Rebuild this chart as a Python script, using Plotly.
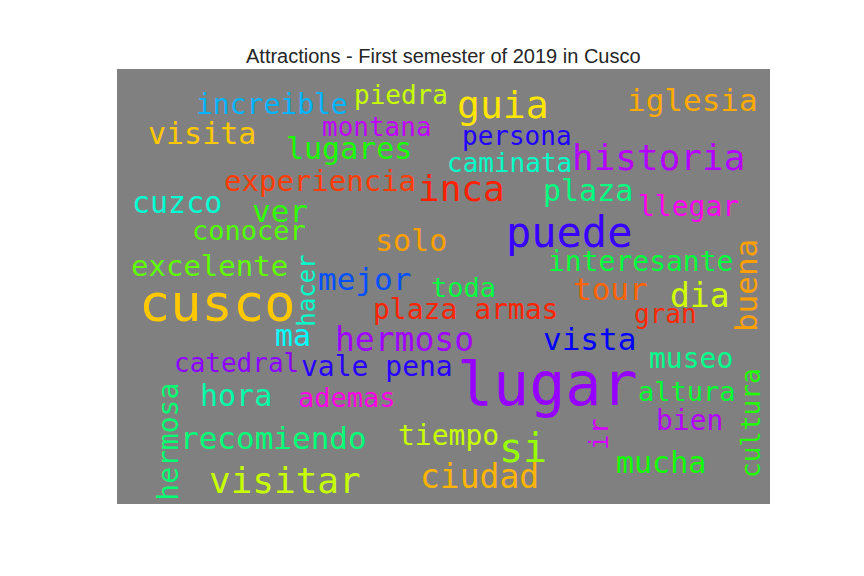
import plotly.graph_objects as go

# ── Word cloud data (canvas is 653 x 435 px, origin top-left) ──────────────
words = [
    "increible", "piedra", "guia", "iglesia", "visita", "montana", "persona",
    "lugares", "caminata", "historia", "experiencia", "inca", "cuzco", "plaza",
    "ver", "llegar", "conocer", "solo", "puede", "excelente", "interesante",
    "mejor", "toda", "tour", "dia", "cusco", "plaza armas", "gran", "ma",
    "hermoso", "vista", "catedral", "vale pena", "museo", "lugar", "hora",
    "ademas", "altura", "bien", "recomiendo", "tiempo", "si", "mucha",
    "visitar", "ciudad", "hacer", "buena", "ir", "cultura", "hermosa",
]
word_x = [
    154.7, 284.0, 386.3, 575.2, 84.8, 259.8, 400.0,
    231.8, 392.5, 541.3, 202.7, 344.7, 59.8, 470.8,
    163.0, 571.5, 131.8, 294.3, 452.2, 92.7, 523.3,
    247.7, 346.3, 493.0, 583.0, 100.2, 348.0, 548.0, 175.5,
    287.2, 472.2, 119.3, 259.7, 573.5, 430.5, 118.5,
    229.8, 569.7, 572.2, 156.8, 331.2, 406.3, 544.2,
    168.0, 362.8, 189.7, 628.8, 482.0, 634.7, 52.0,
]
word_y = [
    35.3, 26.0, 36.2, 31.0, 64.6, 57.7, 67.0,
    79.6, 93.7, 88.2, 111.7, 119.2, 133.6, 121.3,
    142.0, 137.0, 161.4, 171.3, 163.8, 196.7, 192.0,
    210.3, 218.4, 220.3, 226.3, 234.0, 240.6, 245.3, 266.3,
    270.3, 270.3, 293.7, 297.3, 289.6, 315.2, 326.3,
    328.4, 322.7, 351.3, 368.6, 366.3, 378.9, 393.9,
    411.8, 407.9, 222.0, 216.3, 366.0, 354.3, 372.7,
]
word_size = [
    28, 26, 38, 31, 30, 26, 26,
    30, 26, 36, 29, 36, 30, 30,
    31, 28, 27, 30, 42, 29, 28,
    31, 27, 31, 33, 52, 28, 26, 30,
    33, 31, 26, 28, 28, 60, 30,
    27, 27, 28, 31, 28, 40, 30,
    36, 33, 24, 31, 26, 26, 28,
]
word_color = [
    "#00b4ff", "#c8ff00", "#ffe600", "#ffaa00", "#ffc800", "#c000ff", "#2200ff",
    "#1aff00", "#00ffc8", "#b400ff", "#ff3c00", "#ff2000", "#00ffd2", "#00ff80",
    "#30ff00", "#ff00f0", "#50ff00", "#ffa000", "#3800ff", "#60ff00", "#00ff3c",
    "#0050ff", "#00ff40", "#ff6400", "#d2ff00", "#ffc800", "#ff2400", "#ff2800", "#00ffff",
    "#a000ff", "#0000ff", "#8c00ff", "#2800ff", "#00ff8c", "#9600ff", "#00ffaa",
    "#ff00e6", "#00ff30", "#b400ff", "#00ff78", "#c8ff00", "#96ff00", "#10ff00",
    "#c8ff00", "#ffb400", "#00ffcc", "#ffa000", "#d200ff", "#20ff00", "#00ff70",
]
vertical = {"hacer", "buena", "ir", "cultura", "hermosa"}

TITLE = "Attractions - First semester of 2019 in Cusco"
CANVAS_W, CANVAS_H = 653, 435

fig = go.Figure()
# empty trace so the axes carry the canvas coordinates
fig.add_trace(go.Scatter(x=[], y=[], hoverinfo="skip", showlegend=False))

annotations = []
for w, x, y, s, c in zip(words, word_x, word_y, word_size, word_color):
    annotations.append(dict(
        text=w, x=x, y=y, xref="x", yref="y",
        xanchor="center", yanchor="middle",
        textangle=-90 if w in vertical else 0,
        showarrow=False,
        font=dict(family="DejaVu Sans Mono", size=s, color=c),
    ))

# title above the image
annotations.append(dict(
    text=TITLE, x=0.5, y=1.0306, xref="paper", yref="paper",
    xanchor="center", yanchor="middle", showarrow=False,
    font=dict(family="Liberation Sans, Arial", size=20, color="#262626"),
))

# page body adds an 8px offset, so margins are shifted to compensate
fig.update_layout(
    width=864, height=576,
    margin=dict(l=109, r=102, t=61, b=80),
    paper_bgcolor="white",
    plot_bgcolor="#808080",
    xaxis=dict(range=[0, CANVAS_W], visible=False, fixedrange=True),
    yaxis=dict(range=[CANVAS_H, 0], visible=False, fixedrange=True),
    annotations=annotations,
    showlegend=False,
)

fig.write_html("out.html")
